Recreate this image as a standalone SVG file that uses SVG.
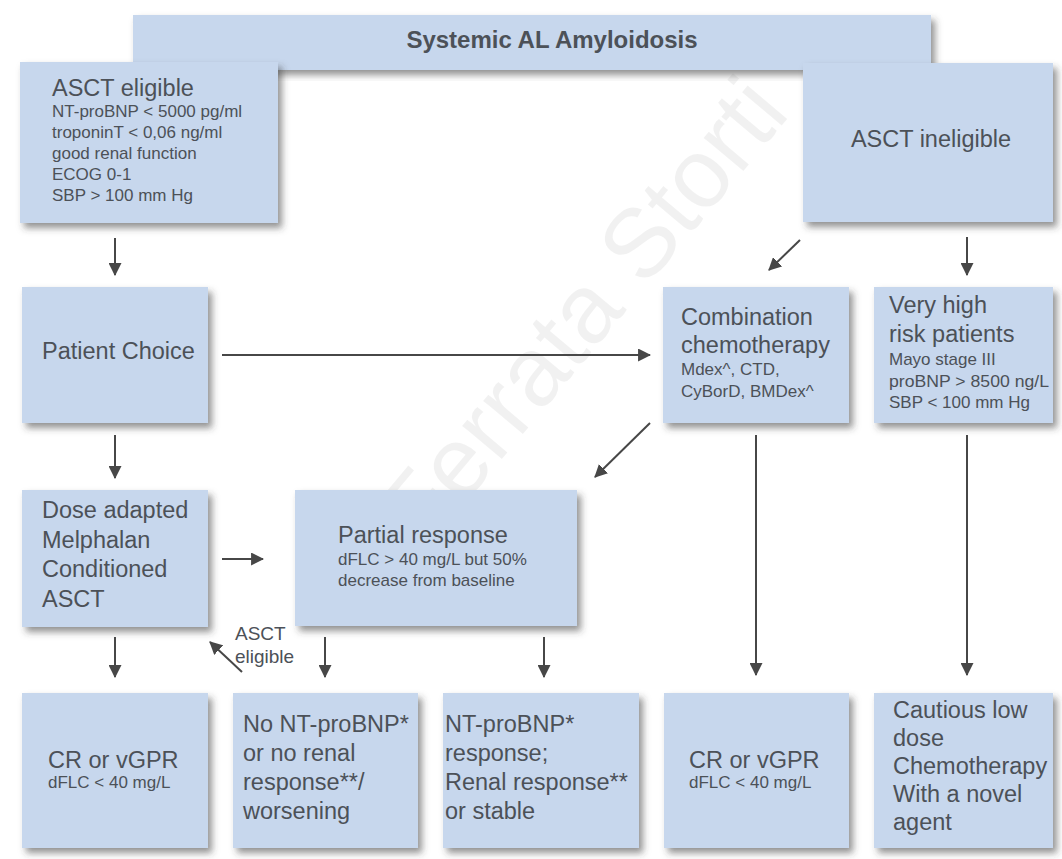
<svg xmlns="http://www.w3.org/2000/svg" width="1062" height="859" viewBox="0 0 1062 859">
<defs>
<filter id="sh" x="-10%" y="-10%" width="125%" height="130%">
<feDropShadow dx="4" dy="5" stdDeviation="3.5" flood-color="#3a3a3a" flood-opacity="0.55"/>
</filter>
<marker id="ah" viewBox="0 0 12 12" refX="11" refY="6" markerWidth="13" markerHeight="13" markerUnits="userSpaceOnUse" orient="auto">
<path d="M0,0 L12,6 L0,12 Z" fill="#474747"/>
</marker>
</defs>
<style>
.box{fill:#c7d7ed;filter:url(#sh);}
.t{font-family:"Liberation Sans",Arial,sans-serif;fill:#4c5158;}
.big{font-size:23.5px;}
.sm{font-size:17px;}
.lbl{font-size:19px;}
.title{font-size:24px;font-weight:bold;}
.wm{font-family:"Liberation Sans",Arial,sans-serif;font-size:98px;fill:#000;opacity:0.05;}
.c{stroke:#474747;stroke-width:2;fill:none;marker-end:url(#ah);}
</style>
<rect width="1062" height="859" fill="#ffffff"/>
<text class="wm" transform="translate(360,628) rotate(-50)">© Ferrata Storti</text>

<g id="title">
<rect class="box" x="133" y="15" width="798" height="55"/>
<text class="t title" x="552" y="48" text-anchor="middle">Systemic AL Amyloidosis</text>
</g>
<g id="asct-eligible">
<rect class="box" x="20" y="62" width="258" height="161"/>
<text class="t big" x="52" y="96">ASCT eligible</text>
<text class="t sm" x="52" y="117">NT-proBNP &lt; 5000 pg/ml</text>
<text class="t sm" x="52" y="138">troponinT &lt; 0,06 ng/ml</text>
<text class="t sm" x="52" y="159">good renal function</text>
<text class="t sm" x="52" y="180">ECOG 0-1</text>
<text class="t sm" x="52" y="201">SBP &gt; 100 mm Hg</text>
</g>
<g id="asct-ineligible">
<rect class="box" x="803" y="63" width="250" height="159"/>
<text class="t big" x="931" y="147" text-anchor="middle">ASCT ineligible</text>
</g>
<g id="patient-choice">
<rect class="box" x="22" y="287" width="186" height="136"/>
<text class="t big" x="42" y="359">Patient Choice</text>
</g>
<g id="combination">
<rect class="box" x="663" y="287" width="186" height="136"/>
<text class="t big" x="681" y="325">Combination</text>
<text class="t big" x="681" y="353">chemotherapy</text>
<text class="t sm" x="681" y="375">Mdex^, CTD,</text>
<text class="t sm" x="681" y="397">CyBorD, BMDex^</text>
</g>
<g id="very-high-risk">
<rect class="box" x="874" y="287" width="179" height="136"/>
<text class="t big" x="889" y="313">Very high</text>
<text class="t big" x="889" y="342">risk patients</text>
<text class="t sm" x="889" y="365">Mayo stage III</text>
<text class="t sm" x="889" y="387" textLength="160" lengthAdjust="spacingAndGlyphs">proBNP &gt; 8500 ng/L</text>
<text class="t sm" x="889" y="408">SBP &lt; 100 mm Hg</text>
</g>
<g id="dose-adapted">
<rect class="box" x="22" y="490" width="186" height="137"/>
<text class="t big" x="42" y="518">Dose adapted</text>
<text class="t big" x="42" y="548">Melphalan</text>
<text class="t big" x="42" y="577">Conditioned</text>
<text class="t big" x="42" y="607">ASCT</text>
</g>
<g id="partial-response">
<rect class="box" x="295" y="490" width="282" height="136"/>
<text class="t big" x="338" y="543">Partial response</text>
<text class="t sm" x="338" y="565">dFLC &gt; 40 mg/L but 50%</text>
<text class="t sm" x="338" y="586">decrease from baseline</text>
</g>
<g id="cr-left">
<rect class="box" x="22" y="693" width="186" height="155"/>
<text class="t big" x="48" y="768">CR or vGPR</text>
<text class="t sm" x="48" y="788">dFLC &lt; 40 mg/L</text>
</g>
<g id="no-ntprobnp">
<rect class="box" x="233" y="693" width="185" height="155"/>
<text class="t big" x="243" y="732">No NT-proBNP*</text>
<text class="t big" x="243" y="761">or no renal</text>
<text class="t big" x="243" y="790">response**/</text>
<text class="t big" x="243" y="819">worsening</text>
</g>
<g id="ntprobnp-response">
<rect class="box" x="443" y="693" width="196" height="155"/>
<text class="t big" x="445" y="732">NT-proBNP*</text>
<text class="t big" x="445" y="761">response;</text>
<text class="t big" x="445" y="790">Renal response**</text>
<text class="t big" x="445" y="819">or stable</text>
</g>
<g id="cr-right">
<rect class="box" x="664" y="693" width="185" height="155"/>
<text class="t big" x="689" y="768">CR or vGPR</text>
<text class="t sm" x="689" y="788">dFLC &lt; 40 mg/L</text>
</g>
<g id="cautious">
<rect class="box" x="874" y="693" width="179" height="155"/>
<text class="t big" x="893" y="718">Cautious low</text>
<text class="t big" x="893" y="746">dose</text>
<text class="t big" x="893" y="774">Chemotherapy</text>
<text class="t big" x="893" y="802">With a novel</text>
<text class="t big" x="893" y="830">agent</text>
</g>

<g id="connectors">
<line class="c" x1="115" y1="238" x2="115" y2="275"/>
<line class="c" x1="115" y1="435" x2="115" y2="478"/>
<line class="c" x1="115" y1="637" x2="115" y2="677"/>
<line class="c" x1="325" y1="637" x2="325" y2="677"/>
<line class="c" x1="544" y1="637" x2="544" y2="677"/>
<line class="c" x1="756" y1="435" x2="756" y2="675"/>
<line class="c" x1="967" y1="435" x2="967" y2="675"/>
<line class="c" x1="967" y1="237" x2="967" y2="275"/>
<line class="c" x1="222" y1="355" x2="650" y2="355"/>
<line class="c" x1="222" y1="559" x2="263" y2="559"/>
<line class="c" x1="800" y1="240" x2="769" y2="270"/>
<line class="c" x1="650" y1="423" x2="595" y2="477"/>
<line class="c" x1="242" y1="672" x2="210" y2="642"/>
<text class="t lbl" x="235" y="640">ASCT</text>
<text class="t lbl" x="235" y="663">eligible</text>
</g>
</svg>
